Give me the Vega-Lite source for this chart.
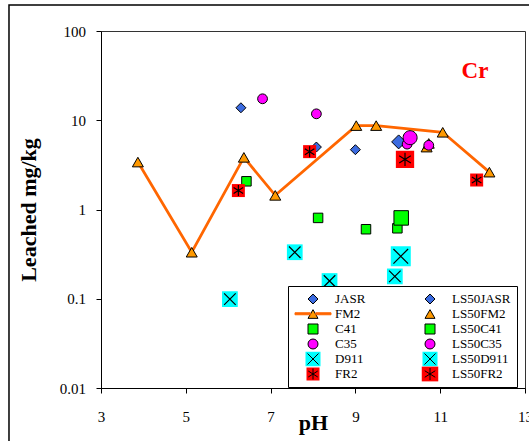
{
  "$schema": "https://vega.github.io/schema/vega-lite/v6.json",
  "width": 424,
  "height": 357,
  "autosize": {"type": "none"},
  "padding": {"left": 101, "top": 31, "right": 4, "bottom": 53},
  "background": "white",
  "datasets": {
    "pts": [
      {"s": "JASR", "pH": 6.30, "v": 13.8},
      {"s": "JASR", "pH": 8.08, "v": 5.01},
      {"s": "JASR", "pH": 9.00, "v": 4.68},
      {"s": "LS50JASR", "pH": 10.02, "v": 5.72},
      {"s": "FM2", "pH": 3.87, "v": 3.40},
      {"s": "FM2", "pH": 5.14, "v": 0.332},
      {"s": "FM2", "pH": 6.37, "v": 3.84},
      {"s": "FM2", "pH": 7.11, "v": 1.44},
      {"s": "FM2", "pH": 9.02, "v": 8.71},
      {"s": "FM2", "pH": 9.49, "v": 8.71},
      {"s": "FM2", "pH": 11.06, "v": 7.33},
      {"s": "FM2", "pH": 12.16, "v": 2.62},
      {"s": "LS50FM2", "pH": 10.68, "v": 5.0},
      {"s": "LS50FM2", "pH": 10.73, "v": 5.5},
      {"s": "C41", "pH": 6.43, "v": 2.07},
      {"s": "C41", "pH": 8.12, "v": 0.805},
      {"s": "C41", "pH": 9.25, "v": 0.601},
      {"s": "C41", "pH": 9.99, "v": 0.616},
      {"s": "LS50C41", "pH": 10.08, "v": 0.805},
      {"s": "C35", "pH": 6.81, "v": 17.4},
      {"s": "C35", "pH": 8.08, "v": 11.8},
      {"s": "C35", "pH": 10.22, "v": 5.4},
      {"s": "C35", "pH": 10.73, "v": 5.24},
      {"s": "LS50C35", "pH": 10.29, "v": 6.38},
      {"s": "D911", "pH": 6.04, "v": 0.099},
      {"s": "D911", "pH": 7.57, "v": 0.332},
      {"s": "D911", "pH": 8.39, "v": 0.158},
      {"s": "D911", "pH": 9.93, "v": 0.178},
      {"s": "LS50D911", "pH": 10.07, "v": 0.299},
      {"s": "FR2", "pH": 6.24, "v": 1.63},
      {"s": "FR2", "pH": 7.92, "v": 4.45},
      {"s": "FR2", "pH": 11.86, "v": 2.14},
      {"s": "LS50FR2", "pH": 10.17, "v": 3.65}
    ]
  },
  "data": {"name": "pts"},
  "config": {
    "font": "Liberation Serif",
    "view": {"stroke": "#333333", "strokeWidth": 1},
    "axis": {
      "grid": false,
      "domainColor": "black",
      "tickColor": "black",
      "labelColor": "black",
      "titleColor": "black",
      "labelFont": "Liberation Serif",
      "titleFont": "Liberation Serif",
      "labelFontSize": 15,
      "titleFontSize": 22,
      "titleFontWeight": "bold",
      "tickSize": 5,
      "domainWidth": 1,
      "tickWidth": 1
    },
    "axisX": {"labelBaseline": "alphabetic", "labelPadding": 28, "titleY": 41, "titleBaseline": "alphabetic"},
    "axisY": {"labelPadding": 10.5, "titleX": -66, "titleBaseline": "alphabetic"}
  },
  "resolve": {"scale": {"shape": "independent", "fill": "independent", "stroke": "independent"}},
  "layer": [
    {
      "data": {"values": [{"f": 1}]},
      "mark": {"type": "rect", "fillOpacity": 0, "stroke": "black", "strokeWidth": 1.5, "clip": false},
      "encoding": {
        "x": {"datum": 0.83, "type": "quantitative", "scale": {"domain": [3, 13], "nice": false, "zero": false}, "title": "pH"},
        "x2": {"datum": 14.5},
        "y": {"datum": 195, "type": "quantitative", "scale": {"type": "log", "domain": [0.01, 100], "nice": false}, "title": "Leached mg/kg"},
        "y2": {"datum": 0.002}
      }
    },
    {
      "transform": [{"filter": "datum.s === 'FM2'"}],
      "mark": {"type": "line", "stroke": "#FF6600", "strokeWidth": 2.75},
      "encoding": {
        "x": {"field": "pH", "type": "quantitative", "scale": {"domain": [3, 13], "nice": false, "zero": false}, "axis": {"values": [3, 5, 7, 9, 11, 13], "format": "d", "labelFlush": false, "labelOverlap": false}, "title": "pH"},
        "y": {"field": "v", "type": "quantitative", "scale": {"type": "log", "domain": [0.01, 100], "nice": false}, "axis": {"values": [0.01, 0.1, 1, 10, 100], "format": "~g", "labelOverlap": false}, "title": "Leached mg/kg"}
      }
    },
    {
      "mark": {"type": "point", "filled": true, "opacity": 1, "strokeWidth": 1},
      "encoding": {
        "x": {"field": "pH", "type": "quantitative", "scale": {"domain": [3, 13], "nice": false, "zero": false}, "axis": {"values": [3, 5, 7, 9, 11, 13], "format": "d", "labelFlush": false, "labelOverlap": false}, "title": "pH"},
        "y": {"field": "v", "type": "quantitative", "scale": {"type": "log", "domain": [0.01, 100], "nice": false}, "axis": {"values": [0.01, 0.1, 1, 10, 100], "format": "~g", "labelOverlap": false}, "title": "Leached mg/kg"},
        "shape": {
          "field": "s", "type": "nominal",
          "scale": {
            "domain": ["JASR", "FM2", "C41", "C35", "D911", "FR2", "LS50JASR", "LS50FM2", "LS50C41", "LS50C35", "LS50D911", "LS50FR2"],
            "range": [
              "M0,-1L1,0L0,1L-1,0Z",
              "M0,-0.87L1,0.87L-1,0.87Z",
              "M-1,-1L1,-1L1,1L-1,1Z",
              "M1,0A1,1,0,1,1,-1,0A1,1,0,1,1,1,0Z",
              "M-1.5,-1.5L1.5,-1.5L1.5,1.5L-1.5,1.5Z",
              "M-1.3,-1.3L1.3,-1.3L1.3,1.3L-1.3,1.3Z",
              "M17.9,0L17.9,0M0,-1L1,0L0,1L-1,0Z",
              "M17.9,0L17.9,0M0,-0.87L1,0.87L-1,0.87Z",
              "M17.9,0L17.9,0M-1,-1L1,-1L1,1L-1,1Z",
              "M17.9,0L17.9,0M1,0A1,1,0,1,1,-1,0A1,1,0,1,1,1,0Z",
              "M17.9,0L17.9,0M-1.5,-1.5L1.5,-1.5L1.5,1.5L-1.5,1.5Z",
              "M17.9,0L17.9,0M-1.65,-1.55L1.65,-1.55L1.65,1.55L-1.65,1.55Z"
            ]
          },
          "legend": {"orient": "none", "legendX": 187, "legendY": 255, "columns": 2, "title": null, "padding": 5.5, "fillColor": "white", "strokeColor": "black", "symbolSize": 100, "symbolStrokeWidth": 1, "labelFont": "Liberation Serif", "labelFontSize": 13, "labelColor": "black", "labelOffset": 15.5, "symbolOffset": 13, "columnPadding": 45, "rowPadding": 0, "clipHeight": 15, "labelLimit": 200, "encode": {"symbols": {"update": {"size": {"value": 100}}}}}
        },
        "fill": {
          "field": "s", "type": "nominal",
          "scale": {
            "domain": ["JASR", "FM2", "C41", "C35", "D911", "FR2", "LS50JASR", "LS50FM2", "LS50C41", "LS50C35", "LS50D911", "LS50FR2"],
            "range": ["#3b6be0", "#FF9900", "#00FF00", "#FF00FF", "#00FFFF", "#FF0000", "#3b6be0", "#FF9900", "#00FF00", "#FF00FF", "#00FFFF", "#FF0000"]
          },
          "legend": {"orient": "none", "legendX": 187, "legendY": 255, "columns": 2, "title": null, "padding": 5.5, "fillColor": "white", "strokeColor": "black", "symbolSize": 100, "symbolStrokeWidth": 1, "labelFont": "Liberation Serif", "labelFontSize": 13, "labelColor": "black", "labelOffset": 15.5, "symbolOffset": 13, "columnPadding": 45, "rowPadding": 0, "clipHeight": 15, "labelLimit": 200, "encode": {"symbols": {"update": {"size": {"value": 100}}}}}
        },
        "stroke": {
          "field": "s", "type": "nominal",
          "scale": {
            "domain": ["JASR", "FM2", "C41", "C35", "D911", "FR2", "LS50JASR", "LS50FM2", "LS50C41", "LS50C35", "LS50D911", "LS50FR2"],
            "range": ["black", "black", "black", "black", "transparent", "transparent", "black", "black", "black", "black", "transparent", "transparent"]
          },
          "legend": {"orient": "none", "legendX": 187, "legendY": 255, "columns": 2, "title": null, "padding": 5.5, "fillColor": "white", "strokeColor": "black", "symbolSize": 100, "symbolStrokeWidth": 1, "labelFont": "Liberation Serif", "labelFontSize": 13, "labelColor": "black", "labelOffset": 15.5, "symbolOffset": 13, "columnPadding": 45, "rowPadding": 0, "clipHeight": 15, "labelLimit": 200, "encode": {"symbols": {"update": {"size": {"value": 100}}}}}
        },
        "size": {
          "value": 100,
          "condition": [
            {"test": "datum.s === 'LS50JASR'", "value": 196},
            {"test": "datum.s === 'FM2' || datum.s === 'LS50FM2'", "value": 121},
            {"test": "datum.s === 'C41'", "value": 90},
            {"test": "datum.s === 'LS50C41'", "value": 210},
            {"test": "datum.s === 'C35'", "value": 96},
            {"test": "datum.s === 'LS50C35'", "value": 196},
            {"test": "datum.s === 'D911'", "value": 110},
            {"test": "datum.s === 'LS50D911'", "value": 178},
            {"test": "datum.s === 'LS50FR2'", "value": 123}
          ]
        }
      }
    },
    {
      "transform": [{"filter": {"field": "s", "oneOf": ["D911", "LS50D911", "FR2", "LS50FR2"]}}],
      "mark": {"type": "point", "filled": true, "opacity": 1, "strokeWidth": 1.2},
      "encoding": {
        "x": {"field": "pH", "type": "quantitative", "scale": {"domain": [3, 13], "nice": false, "zero": false}, "axis": {"values": [3, 5, 7, 9, 11, 13], "format": "d", "labelFlush": false, "labelOverlap": false}, "title": "pH"},
        "y": {"field": "v", "type": "quantitative", "scale": {"type": "log", "domain": [0.01, 100], "nice": false}, "axis": {"values": [0.01, 0.1, 1, 10, 100], "format": "~g", "labelOverlap": false}, "title": "Leached mg/kg"},
        "shape": {
          "field": "s", "type": "nominal",
          "scale": {
            "domain": ["JASR", "FM2", "C41", "C35", "D911", "FR2", "LS50JASR", "LS50FM2", "LS50C41", "LS50C35", "LS50D911", "LS50FR2"],
            "range": [
              "M0,0",
              "M-3.6,-0.25L-0.55,-0.25L-0.55,0.15L-3.6,0.15ZM0.55,-0.25L3.6,-0.25L3.6,0.15L0.55,0.15Z",
              "M0,0",
              "M0,0",
              "M-1.1,-1.1L1.1,1.1M-1.1,1.1L1.1,-1.1",
              "M0,-1.1L0,1.1M-0.95,-0.6L0.95,0.6M-0.95,0.6L0.95,-0.6",
              "M0,0",
              "M0,0",
              "M0,0",
              "M0,0",
              "M-1.1,-1.1L1.1,1.1M-1.1,1.1L1.1,-1.1",
              "M0,-1.2L0,1.2M-1.05,-0.65L1.05,0.65M-1.05,0.65L1.05,-0.65"
            ]
          },
          "legend": {"orient": "none", "legendX": 187, "legendY": 255, "columns": 2, "title": null, "padding": 5.5, "fillColor": "transparent", "strokeColor": "transparent", "symbolSize": 100, "symbolStrokeWidth": 1, "labelFont": "Liberation Serif", "labelFontSize": 13, "labelColor": "black", "labelOpacity": 0, "labelOffset": 15.5, "symbolOffset": 13, "columnPadding": 45, "rowPadding": 0, "clipHeight": 15, "labelLimit": 200, "encode": {"symbols": {"update": {"size": {"value": 100}}}}}
        },
        "fill": {
          "field": "s", "type": "nominal",
          "scale": {
            "domain": ["JASR", "FM2", "C41", "C35", "D911", "FR2", "LS50JASR", "LS50FM2", "LS50C41", "LS50C35", "LS50D911", "LS50FR2"],
            "range": ["transparent", "#FF6600", "transparent", "transparent", "transparent", "transparent", "transparent", "transparent", "transparent", "transparent", "transparent", "transparent"]
          },
          "legend": {"orient": "none", "legendX": 187, "legendY": 255, "columns": 2, "title": null, "padding": 5.5, "fillColor": "transparent", "strokeColor": "transparent", "symbolSize": 100, "symbolStrokeWidth": 1, "labelFont": "Liberation Serif", "labelFontSize": 13, "labelColor": "black", "labelOpacity": 0, "labelOffset": 15.5, "symbolOffset": 13, "columnPadding": 45, "rowPadding": 0, "clipHeight": 15, "labelLimit": 200, "encode": {"symbols": {"update": {"size": {"value": 100}}}}}
        },
        "stroke": {
          "field": "s", "type": "nominal",
          "scale": {
            "domain": ["JASR", "FM2", "C41", "C35", "D911", "FR2", "LS50JASR", "LS50FM2", "LS50C41", "LS50C35", "LS50D911", "LS50FR2"],
            "range": ["transparent", "#FF6600", "transparent", "transparent", "black", "black", "transparent", "transparent", "transparent", "transparent", "black", "black"]
          },
          "legend": {"orient": "none", "legendX": 187, "legendY": 255, "columns": 2, "title": null, "padding": 5.5, "fillColor": "transparent", "strokeColor": "transparent", "symbolSize": 100, "symbolStrokeWidth": 1, "labelFont": "Liberation Serif", "labelFontSize": 13, "labelColor": "black", "labelOpacity": 0, "labelOffset": 15.5, "symbolOffset": 13, "columnPadding": 45, "rowPadding": 0, "clipHeight": 15, "labelLimit": 200, "encode": {"symbols": {"update": {"size": {"value": 100}}}}}
        },
        "size": {
          "value": 100,
          "condition": [
            {"test": "datum.s === 'D911'", "value": 110},
            {"test": "datum.s === 'LS50D911'", "value": 178},
            {"test": "datum.s === 'LS50FR2'", "value": 123}
          ]
        }
      }
    },
    {
      "data": {"values": [{"t": "Cr"}]},
      "mark": {"type": "text", "font": "Liberation Serif", "fontSize": 23, "fontWeight": "bold", "color": "#FF0000", "align": "center", "baseline": "alphabetic"},
      "encoding": {
        "x": {"datum": 11.82, "type": "quantitative", "scale": {"domain": [3, 13], "nice": false, "zero": false}, "title": "pH"},
        "y": {"datum": 30, "type": "quantitative", "scale": {"type": "log", "domain": [0.01, 100], "nice": false}, "title": "Leached mg/kg"},
        "text": {"field": "t"}
      }
    }
  ]
}
